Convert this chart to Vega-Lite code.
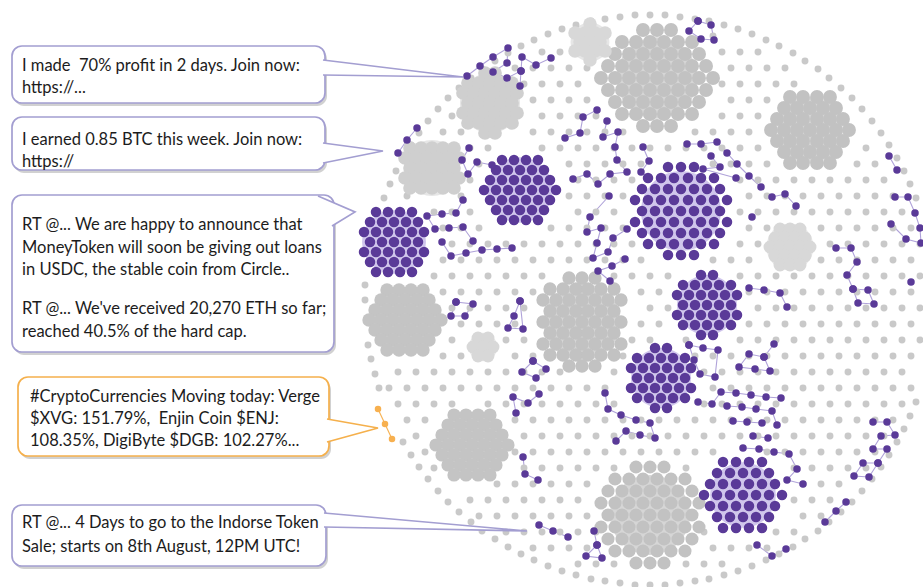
{
"$schema":"https://vega.github.io/schema/vega-lite/v6.json",
"width":923,"height":587,"padding":0,"autosize":{"type":"none"},"background":"white",
"config":{"view":{"stroke":null}},
"encoding":{
"x":{"field":"x","type":"quantitative","scale":{"domain":[0,923],"nice":false,"zero":false},"axis":null},
"y":{"field":"y","type":"quantitative","scale":{"domain":[0,587],"nice":false,"zero":false,"reverse":true},"axis":null}
},
"resolve":{"scale":{"size":"independent","color":"independent"}},
"datasets":{
"haze":[{"x":657,"y":78,"n":57,"k":"g"},{"x":810,"y":130,"n":37,"k":"g"},{"x":490,"y":103,"n":31,"k":"l"},{"x":432,"y":168,"n":27,"k":"l"},{"x":590,"y":42,"n":13,"k":"l"},{"x":405,"y":320,"n":37,"k":"g"},{"x":582,"y":322,"n":51,"k":"g"},{"x":472,"y":445,"n":37,"k":"g"},{"x":650,"y":515,"n":55,"k":"g"},{"x":790,"y":247,"n":19,"k":"l"},{"x":483,"y":347,"n":7,"k":"l"},{"x":520,"y":190,"n":37,"k":"p"},{"x":681,"y":211,"n":55,"k":"p"},{"x":394,"y":242,"n":35,"k":"p"},{"x":707,"y":305,"n":31,"k":"p"},{"x":661,"y":378,"n":31,"k":"p"},{"x":743,"y":495,"n":37,"k":"p"}],
"bg":[
{"x":916,"y":402},{"x":910,"y":416},{"x":904,"y":429},{"x":897,"y":442},{"x":889,"y":455},{"x":881,"y":467},{"x":872,"y":479},{"x":862,"y":491},{"x":852,"y":502},{"x":841,"y":512},{"x":829,"y":522},{"x":818,"y":531},{"x":805,"y":539},{"x":793,"y":547},{"x":779,"y":554},{"x":766,"y":560},{"x":752,"y":566},{"x":738,"y":571},{"x":724,"y":575},{"x":709,"y":579},{"x":695,"y":581},{"x":680,"y":583},{"x":665,"y":585},{"x":650,"y":585},
{"x":635,"y":585},{"x":620,"y":583},{"x":605,"y":581},{"x":591,"y":579},{"x":576,"y":575},{"x":562,"y":571},{"x":548,"y":566},{"x":534,"y":560},{"x":521,"y":554},{"x":508,"y":547},{"x":495,"y":539},{"x":482,"y":531},{"x":471,"y":522},{"x":459,"y":512},{"x":448,"y":502},{"x":438,"y":491},{"x":428,"y":479},{"x":419,"y":467},{"x":411,"y":455},{"x":403,"y":442},{"x":379,"y":388},{"x":375,"y":374},{"x":371,"y":359},{"x":368,"y":345},{"x":365,"y":300},
{"x":365,"y":285},{"x":384,"y":198},{"x":390,"y":184},{"x":396,"y":171},{"x":403,"y":158},{"x":411,"y":145},{"x":419,"y":133},{"x":428,"y":121},{"x":438,"y":109},{"x":448,"y":98},{"x":459,"y":88},{"x":471,"y":78},{"x":482,"y":69},{"x":495,"y":61},{"x":508,"y":53},{"x":521,"y":46},{"x":534,"y":40},{"x":548,"y":34},{"x":562,"y":29},{"x":576,"y":25},{"x":591,"y":21},{"x":605,"y":19},{"x":620,"y":17},{"x":635,"y":15},{"x":650,"y":15},
{"x":665,"y":15},{"x":680,"y":17},{"x":695,"y":19},{"x":709,"y":21},{"x":724,"y":25},{"x":738,"y":29},{"x":752,"y":34},{"x":766,"y":40},{"x":779,"y":46},{"x":793,"y":53},{"x":805,"y":61},{"x":818,"y":69},{"x":829,"y":78},{"x":841,"y":88},{"x":852,"y":98},{"x":862,"y":109},{"x":872,"y":121},{"x":881,"y":133},{"x":889,"y":145},{"x":897,"y":158},{"x":904,"y":171},{"x":910,"y":184},{"x":916,"y":198},
{"x":713,"y":36},
{"x":542,"y":52},{"x":560,"y":52},{"x":722,"y":52},{"x":740,"y":52},{"x":758,"y":52},
{"x":515,"y":68},{"x":533,"y":68},{"x":551,"y":68},{"x":569,"y":68},{"x":587,"y":68},{"x":731,"y":68},{"x":749,"y":68},{"x":767,"y":68},{"x":785,"y":68},
{"x":524,"y":84},{"x":542,"y":84},{"x":560,"y":84},{"x":578,"y":84},{"x":722,"y":84},{"x":740,"y":84},{"x":758,"y":84},{"x":776,"y":84},{"x":794,"y":84},
{"x":533,"y":100},{"x":551,"y":100},{"x":569,"y":100},{"x":587,"y":100},{"x":731,"y":100},{"x":749,"y":100},{"x":767,"y":100},
{"x":452,"y":116},{"x":542,"y":116},{"x":560,"y":116},{"x":578,"y":116},{"x":596,"y":116},{"x":722,"y":116},{"x":740,"y":116},{"x":758,"y":116},
{"x":443,"y":132},{"x":461,"y":132},{"x":533,"y":132},{"x":551,"y":132},{"x":569,"y":132},{"x":587,"y":132},{"x":605,"y":132},{"x":623,"y":132},{"x":695,"y":132},{"x":713,"y":132},{"x":731,"y":132},{"x":749,"y":132},
{"x":470,"y":148},{"x":488,"y":148},{"x":542,"y":148},{"x":560,"y":148},{"x":578,"y":148},{"x":596,"y":148},{"x":614,"y":148},{"x":632,"y":148},{"x":650,"y":148},{"x":668,"y":148},{"x":686,"y":148},{"x":704,"y":148},{"x":722,"y":148},{"x":740,"y":148},{"x":758,"y":148},{"x":866,"y":148},
{"x":479,"y":164},{"x":569,"y":164},{"x":587,"y":164},{"x":605,"y":164},{"x":623,"y":164},{"x":641,"y":164},{"x":713,"y":164},{"x":731,"y":164},{"x":749,"y":164},{"x":767,"y":164},{"x":857,"y":164},{"x":875,"y":164},
{"x":470,"y":180},{"x":578,"y":180},{"x":596,"y":180},{"x":614,"y":180},{"x":632,"y":180},{"x":740,"y":180},{"x":758,"y":180},{"x":776,"y":180},{"x":794,"y":180},{"x":812,"y":180},{"x":830,"y":180},{"x":848,"y":180},{"x":866,"y":180},{"x":884,"y":180},
{"x":407,"y":196},{"x":461,"y":196},{"x":569,"y":196},{"x":587,"y":196},{"x":605,"y":196},{"x":623,"y":196},{"x":749,"y":196},{"x":767,"y":196},{"x":785,"y":196},{"x":803,"y":196},{"x":821,"y":196},{"x":839,"y":196},{"x":857,"y":196},{"x":875,"y":196},{"x":893,"y":196},
{"x":434,"y":212},{"x":452,"y":212},{"x":470,"y":212},{"x":578,"y":212},{"x":596,"y":212},{"x":614,"y":212},{"x":740,"y":212},{"x":758,"y":212},{"x":776,"y":212},{"x":794,"y":212},{"x":812,"y":212},{"x":830,"y":212},{"x":848,"y":212},{"x":866,"y":212},{"x":884,"y":212},{"x":902,"y":212},
{"x":443,"y":228},{"x":461,"y":228},{"x":479,"y":228},{"x":551,"y":228},{"x":569,"y":228},{"x":587,"y":228},{"x":605,"y":228},{"x":623,"y":228},{"x":749,"y":228},{"x":767,"y":228},{"x":821,"y":228},{"x":839,"y":228},{"x":857,"y":228},{"x":875,"y":228},{"x":893,"y":228},{"x":911,"y":228},
{"x":452,"y":244},{"x":470,"y":244},{"x":488,"y":244},{"x":506,"y":244},{"x":524,"y":244},{"x":542,"y":244},{"x":560,"y":244},{"x":578,"y":244},{"x":596,"y":244},{"x":614,"y":244},{"x":632,"y":244},{"x":740,"y":244},{"x":758,"y":244},{"x":830,"y":244},{"x":848,"y":244},{"x":866,"y":244},{"x":884,"y":244},{"x":902,"y":244},{"x":920,"y":244},
{"x":443,"y":260},{"x":461,"y":260},{"x":479,"y":260},{"x":497,"y":260},{"x":515,"y":260},{"x":533,"y":260},{"x":551,"y":260},{"x":569,"y":260},{"x":587,"y":260},{"x":605,"y":260},{"x":623,"y":260},{"x":641,"y":260},{"x":713,"y":260},{"x":731,"y":260},{"x":749,"y":260},{"x":821,"y":260},{"x":839,"y":260},{"x":857,"y":260},{"x":875,"y":260},{"x":893,"y":260},{"x":911,"y":260},
{"x":434,"y":276},{"x":452,"y":276},{"x":470,"y":276},{"x":488,"y":276},{"x":506,"y":276},{"x":524,"y":276},{"x":542,"y":276},{"x":614,"y":276},{"x":632,"y":276},{"x":650,"y":276},{"x":668,"y":276},{"x":740,"y":276},{"x":758,"y":276},{"x":776,"y":276},{"x":794,"y":276},{"x":812,"y":276},{"x":830,"y":276},{"x":848,"y":276},{"x":866,"y":276},{"x":884,"y":276},{"x":902,"y":276},{"x":920,"y":276},
{"x":443,"y":292},{"x":461,"y":292},{"x":479,"y":292},{"x":497,"y":292},{"x":515,"y":292},{"x":533,"y":292},{"x":641,"y":292},{"x":659,"y":292},{"x":749,"y":292},{"x":767,"y":292},{"x":785,"y":292},{"x":803,"y":292},{"x":821,"y":292},{"x":839,"y":292},{"x":857,"y":292},{"x":875,"y":292},{"x":893,"y":292},{"x":911,"y":292},
{"x":452,"y":308},{"x":470,"y":308},{"x":488,"y":308},{"x":506,"y":308},{"x":524,"y":308},{"x":650,"y":308},{"x":668,"y":308},{"x":758,"y":308},{"x":776,"y":308},{"x":794,"y":308},{"x":812,"y":308},{"x":830,"y":308},{"x":848,"y":308},{"x":866,"y":308},{"x":884,"y":308},{"x":902,"y":308},{"x":920,"y":308},
{"x":461,"y":324},{"x":479,"y":324},{"x":497,"y":324},{"x":515,"y":324},{"x":641,"y":324},{"x":659,"y":324},{"x":749,"y":324},{"x":767,"y":324},{"x":785,"y":324},{"x":803,"y":324},{"x":821,"y":324},{"x":839,"y":324},{"x":857,"y":324},{"x":875,"y":324},{"x":893,"y":324},{"x":911,"y":324},
{"x":452,"y":340},{"x":506,"y":340},{"x":524,"y":340},{"x":632,"y":340},{"x":650,"y":340},{"x":686,"y":340},{"x":740,"y":340},{"x":758,"y":340},{"x":776,"y":340},{"x":794,"y":340},{"x":812,"y":340},{"x":830,"y":340},{"x":848,"y":340},{"x":866,"y":340},{"x":884,"y":340},{"x":902,"y":340},{"x":920,"y":340},
{"x":443,"y":356},{"x":461,"y":356},{"x":515,"y":356},{"x":533,"y":356},{"x":623,"y":356},{"x":695,"y":356},{"x":713,"y":356},{"x":731,"y":356},{"x":749,"y":356},{"x":767,"y":356},{"x":785,"y":356},{"x":803,"y":356},{"x":821,"y":356},{"x":839,"y":356},{"x":857,"y":356},{"x":875,"y":356},{"x":893,"y":356},{"x":911,"y":356},
{"x":398,"y":372},{"x":416,"y":372},{"x":434,"y":372},{"x":452,"y":372},{"x":470,"y":372},{"x":488,"y":372},{"x":506,"y":372},{"x":524,"y":372},{"x":542,"y":372},{"x":560,"y":372},{"x":614,"y":372},{"x":704,"y":372},{"x":722,"y":372},{"x":740,"y":372},{"x":758,"y":372},{"x":776,"y":372},{"x":794,"y":372},{"x":812,"y":372},{"x":830,"y":372},{"x":848,"y":372},{"x":866,"y":372},{"x":884,"y":372},{"x":902,"y":372},
{"x":389,"y":388},{"x":407,"y":388},{"x":425,"y":388},{"x":443,"y":388},{"x":461,"y":388},{"x":479,"y":388},{"x":497,"y":388},{"x":515,"y":388},{"x":533,"y":388},{"x":551,"y":388},{"x":569,"y":388},{"x":587,"y":388},{"x":605,"y":388},{"x":713,"y":388},{"x":731,"y":388},{"x":749,"y":388},{"x":767,"y":388},{"x":785,"y":388},{"x":803,"y":388},{"x":821,"y":388},{"x":839,"y":388},{"x":857,"y":388},{"x":875,"y":388},{"x":893,"y":388},{"x":911,"y":388},
{"x":398,"y":404},{"x":416,"y":404},{"x":434,"y":404},{"x":452,"y":404},{"x":488,"y":404},{"x":506,"y":404},{"x":524,"y":404},{"x":542,"y":404},{"x":560,"y":404},{"x":578,"y":404},{"x":596,"y":404},{"x":614,"y":404},{"x":704,"y":404},{"x":722,"y":404},{"x":740,"y":404},{"x":758,"y":404},{"x":776,"y":404},{"x":794,"y":404},{"x":812,"y":404},{"x":830,"y":404},{"x":848,"y":404},{"x":866,"y":404},{"x":884,"y":404},{"x":902,"y":404},
{"x":407,"y":420},{"x":425,"y":420},{"x":515,"y":420},{"x":533,"y":420},{"x":551,"y":420},{"x":569,"y":420},{"x":587,"y":420},{"x":605,"y":420},{"x":623,"y":420},{"x":641,"y":420},{"x":659,"y":420},{"x":677,"y":420},{"x":695,"y":420},{"x":713,"y":420},{"x":731,"y":420},{"x":749,"y":420},{"x":767,"y":420},{"x":785,"y":420},{"x":803,"y":420},{"x":821,"y":420},{"x":839,"y":420},{"x":857,"y":420},{"x":875,"y":420},{"x":893,"y":420},
{"x":416,"y":436},{"x":524,"y":436},{"x":542,"y":436},{"x":560,"y":436},{"x":578,"y":436},{"x":596,"y":436},{"x":614,"y":436},{"x":632,"y":436},{"x":650,"y":436},{"x":668,"y":436},{"x":686,"y":436},{"x":704,"y":436},{"x":722,"y":436},{"x":740,"y":436},{"x":758,"y":436},{"x":776,"y":436},{"x":794,"y":436},{"x":812,"y":436},{"x":830,"y":436},{"x":848,"y":436},{"x":866,"y":436},{"x":884,"y":436},
{"x":425,"y":452},{"x":515,"y":452},{"x":533,"y":452},{"x":551,"y":452},{"x":569,"y":452},{"x":587,"y":452},{"x":605,"y":452},{"x":623,"y":452},{"x":641,"y":452},{"x":659,"y":452},{"x":677,"y":452},{"x":695,"y":452},{"x":713,"y":452},{"x":767,"y":452},{"x":785,"y":452},{"x":803,"y":452},{"x":821,"y":452},{"x":839,"y":452},{"x":857,"y":452},{"x":875,"y":452},
{"x":434,"y":468},{"x":524,"y":468},{"x":542,"y":468},{"x":560,"y":468},{"x":578,"y":468},{"x":596,"y":468},{"x":614,"y":468},{"x":686,"y":468},{"x":794,"y":468},{"x":812,"y":468},{"x":830,"y":468},{"x":848,"y":468},{"x":866,"y":468},
{"x":497,"y":484},{"x":515,"y":484},{"x":533,"y":484},{"x":551,"y":484},{"x":569,"y":484},{"x":587,"y":484},{"x":803,"y":484},{"x":821,"y":484},{"x":839,"y":484},
{"x":470,"y":500},{"x":488,"y":500},{"x":506,"y":500},{"x":524,"y":500},{"x":542,"y":500},{"x":560,"y":500},{"x":578,"y":500},{"x":794,"y":500},{"x":812,"y":500},{"x":830,"y":500},
{"x":479,"y":516},{"x":497,"y":516},{"x":515,"y":516},{"x":533,"y":516},{"x":551,"y":516},{"x":569,"y":516},{"x":587,"y":516},{"x":803,"y":516},{"x":821,"y":516},
{"x":506,"y":532},{"x":524,"y":532},{"x":542,"y":532},{"x":560,"y":532},{"x":578,"y":532},{"x":596,"y":532},{"x":704,"y":532},{"x":776,"y":532},{"x":794,"y":532},
{"x":533,"y":548},{"x":551,"y":548},{"x":569,"y":548},{"x":587,"y":548},{"x":713,"y":548},{"x":731,"y":548},{"x":749,"y":548},{"x":767,"y":548},
{"x":578,"y":564},{"x":596,"y":564},{"x":614,"y":564},{"x":686,"y":564},{"x":704,"y":564},{"x":722,"y":564}
],
"gc":[
{"c":"A","x":643,"y":30},{"c":"A","x":657,"y":30},{"c":"A","x":671,"y":30},
{"c":"A","x":622,"y":42},{"c":"A","x":636,"y":42},{"c":"A","x":650,"y":42},{"c":"A","x":664,"y":42},{"c":"A","x":678,"y":42},{"c":"A","x":692,"y":42},
{"c":"A","x":615,"y":54},{"c":"A","x":629,"y":54},{"c":"A","x":643,"y":54},{"c":"A","x":657,"y":54},{"c":"A","x":671,"y":54},{"c":"A","x":685,"y":54},{"c":"A","x":699,"y":54},
{"c":"A","x":608,"y":66},{"c":"A","x":622,"y":66},{"c":"A","x":636,"y":66},{"c":"A","x":650,"y":66},{"c":"A","x":664,"y":66},{"c":"A","x":678,"y":66},{"c":"A","x":692,"y":66},{"c":"A","x":706,"y":66},
{"c":"A","x":601,"y":78},{"c":"A","x":615,"y":78},{"c":"A","x":629,"y":78},{"c":"A","x":643,"y":78},{"c":"A","x":657,"y":78},{"c":"A","x":671,"y":78},{"c":"A","x":685,"y":78},{"c":"A","x":699,"y":78},{"c":"A","x":713,"y":78},
{"c":"A","x":608,"y":90},{"c":"A","x":622,"y":90},{"c":"A","x":636,"y":90},{"c":"A","x":650,"y":90},{"c":"A","x":664,"y":90},{"c":"A","x":678,"y":90},{"c":"A","x":692,"y":90},{"c":"A","x":706,"y":90},
{"c":"A","x":615,"y":102},{"c":"A","x":629,"y":102},{"c":"A","x":643,"y":102},{"c":"A","x":657,"y":102},{"c":"A","x":671,"y":102},{"c":"A","x":685,"y":102},{"c":"A","x":699,"y":102},
{"c":"A","x":622,"y":114},{"c":"A","x":636,"y":114},{"c":"A","x":650,"y":114},{"c":"A","x":664,"y":114},{"c":"A","x":678,"y":114},{"c":"A","x":692,"y":114},
{"c":"A","x":643,"y":126},{"c":"A","x":657,"y":126},{"c":"A","x":671,"y":126},
{"c":"B","x":790,"y":97},{"c":"B","x":803,"y":97},{"c":"B","x":817,"y":97},{"c":"B","x":830,"y":97},
{"c":"B","x":784,"y":108},{"c":"B","x":797,"y":108},{"c":"B","x":810,"y":108},{"c":"B","x":823,"y":108},{"c":"B","x":836,"y":108},
{"c":"B","x":777,"y":119},{"c":"B","x":790,"y":119},{"c":"B","x":803,"y":119},{"c":"B","x":817,"y":119},{"c":"B","x":830,"y":119},{"c":"B","x":843,"y":119},
{"c":"B","x":771,"y":130},{"c":"B","x":784,"y":130},{"c":"B","x":797,"y":130},{"c":"B","x":810,"y":130},{"c":"B","x":823,"y":130},{"c":"B","x":836,"y":130},{"c":"B","x":849,"y":130},
{"c":"B","x":777,"y":141},{"c":"B","x":790,"y":141},{"c":"B","x":803,"y":141},{"c":"B","x":817,"y":141},{"c":"B","x":830,"y":141},{"c":"B","x":843,"y":141},
{"c":"B","x":784,"y":152},{"c":"B","x":797,"y":152},{"c":"B","x":810,"y":152},{"c":"B","x":823,"y":152},{"c":"B","x":836,"y":152},
{"c":"B","x":790,"y":163},{"c":"B","x":803,"y":163},{"c":"B","x":817,"y":163},{"c":"B","x":830,"y":163},
{"c":"C","x":485,"y":73},{"c":"C","x":495,"y":73},
{"c":"C","x":468,"y":83},{"c":"C","x":479,"y":83},{"c":"C","x":490,"y":83},{"c":"C","x":501,"y":83},{"c":"C","x":512,"y":83},
{"c":"C","x":463,"y":93},{"c":"C","x":474,"y":93},{"c":"C","x":485,"y":93},{"c":"C","x":495,"y":93},{"c":"C","x":506,"y":93},{"c":"C","x":517,"y":93},
{"c":"C","x":468,"y":103},{"c":"C","x":479,"y":103},{"c":"C","x":490,"y":103},{"c":"C","x":501,"y":103},{"c":"C","x":512,"y":103},
{"c":"C","x":463,"y":113},{"c":"C","x":474,"y":113},{"c":"C","x":485,"y":113},{"c":"C","x":495,"y":113},{"c":"C","x":506,"y":113},{"c":"C","x":517,"y":113},
{"c":"C","x":468,"y":123},{"c":"C","x":479,"y":123},{"c":"C","x":490,"y":123},{"c":"C","x":501,"y":123},{"c":"C","x":512,"y":123},
{"c":"C","x":485,"y":133},{"c":"C","x":495,"y":133},
{"c":"D","x":410,"y":148},{"c":"D","x":421,"y":148},{"c":"D","x":432,"y":148},{"c":"D","x":443,"y":148},{"c":"D","x":454,"y":148},
{"c":"D","x":405,"y":158},{"c":"D","x":416,"y":158},{"c":"D","x":427,"y":158},{"c":"D","x":437,"y":158},{"c":"D","x":448,"y":158},{"c":"D","x":459,"y":158},
{"c":"D","x":410,"y":168},{"c":"D","x":421,"y":168},{"c":"D","x":432,"y":168},{"c":"D","x":443,"y":168},{"c":"D","x":454,"y":168},
{"c":"D","x":405,"y":178},{"c":"D","x":416,"y":178},{"c":"D","x":427,"y":178},{"c":"D","x":437,"y":178},{"c":"D","x":448,"y":178},{"c":"D","x":459,"y":178},
{"c":"D","x":410,"y":188},{"c":"D","x":421,"y":188},{"c":"D","x":432,"y":188},{"c":"D","x":443,"y":188},{"c":"D","x":454,"y":188},
{"c":"E","x":590,"y":24},{"c":"E","x":575,"y":33},{"c":"E","x":585,"y":33},{"c":"E","x":595,"y":33},{"c":"E","x":605,"y":33},{"c":"E","x":580,"y":42},{"c":"E","x":590,"y":42},{"c":"E","x":600,"y":42},{"c":"E","x":575,"y":51},{"c":"E","x":585,"y":51},{"c":"E","x":595,"y":51},{"c":"E","x":605,"y":51},{"c":"E","x":590,"y":60},
{"c":"F","x":387,"y":290},{"c":"F","x":399,"y":290},{"c":"F","x":411,"y":290},{"c":"F","x":423,"y":290},
{"c":"F","x":381,"y":300},{"c":"F","x":393,"y":300},{"c":"F","x":405,"y":300},{"c":"F","x":417,"y":300},{"c":"F","x":429,"y":300},
{"c":"F","x":375,"y":310},{"c":"F","x":387,"y":310},{"c":"F","x":399,"y":310},{"c":"F","x":411,"y":310},{"c":"F","x":423,"y":310},{"c":"F","x":435,"y":310},
{"c":"F","x":369,"y":320},{"c":"F","x":381,"y":320},{"c":"F","x":393,"y":320},{"c":"F","x":405,"y":320},{"c":"F","x":417,"y":320},{"c":"F","x":429,"y":320},{"c":"F","x":441,"y":320},
{"c":"F","x":375,"y":330},{"c":"F","x":387,"y":330},{"c":"F","x":399,"y":330},{"c":"F","x":411,"y":330},{"c":"F","x":423,"y":330},{"c":"F","x":435,"y":330},
{"c":"F","x":381,"y":340},{"c":"F","x":393,"y":340},{"c":"F","x":405,"y":340},{"c":"F","x":417,"y":340},{"c":"F","x":429,"y":340},
{"c":"F","x":387,"y":350},{"c":"F","x":399,"y":350},{"c":"F","x":411,"y":350},{"c":"F","x":423,"y":350},
{"c":"G","x":569,"y":278},{"c":"G","x":582,"y":278},{"c":"G","x":595,"y":278},
{"c":"G","x":550,"y":289},{"c":"G","x":563,"y":289},{"c":"G","x":576,"y":289},{"c":"G","x":588,"y":289},{"c":"G","x":601,"y":289},{"c":"G","x":614,"y":289},
{"c":"G","x":543,"y":300},{"c":"G","x":556,"y":300},{"c":"G","x":569,"y":300},{"c":"G","x":582,"y":300},{"c":"G","x":595,"y":300},{"c":"G","x":608,"y":300},{"c":"G","x":621,"y":300},
{"c":"G","x":550,"y":311},{"c":"G","x":563,"y":311},{"c":"G","x":576,"y":311},{"c":"G","x":588,"y":311},{"c":"G","x":601,"y":311},{"c":"G","x":614,"y":311},
{"c":"G","x":543,"y":322},{"c":"G","x":556,"y":322},{"c":"G","x":569,"y":322},{"c":"G","x":582,"y":322},{"c":"G","x":595,"y":322},{"c":"G","x":608,"y":322},{"c":"G","x":621,"y":322},
{"c":"G","x":550,"y":333},{"c":"G","x":563,"y":333},{"c":"G","x":576,"y":333},{"c":"G","x":588,"y":333},{"c":"G","x":601,"y":333},{"c":"G","x":614,"y":333},
{"c":"G","x":543,"y":344},{"c":"G","x":556,"y":344},{"c":"G","x":569,"y":344},{"c":"G","x":582,"y":344},{"c":"G","x":595,"y":344},{"c":"G","x":608,"y":344},{"c":"G","x":621,"y":344},
{"c":"G","x":550,"y":355},{"c":"G","x":563,"y":355},{"c":"G","x":576,"y":355},{"c":"G","x":588,"y":355},{"c":"G","x":601,"y":355},{"c":"G","x":614,"y":355},
{"c":"G","x":569,"y":366},{"c":"G","x":582,"y":366},{"c":"G","x":595,"y":366},
{"c":"H","x":454,"y":415},{"c":"H","x":466,"y":415},{"c":"H","x":478,"y":415},{"c":"H","x":490,"y":415},
{"c":"H","x":448,"y":425},{"c":"H","x":460,"y":425},{"c":"H","x":472,"y":425},{"c":"H","x":484,"y":425},{"c":"H","x":496,"y":425},
{"c":"H","x":442,"y":435},{"c":"H","x":454,"y":435},{"c":"H","x":466,"y":435},{"c":"H","x":478,"y":435},{"c":"H","x":490,"y":435},{"c":"H","x":502,"y":435},
{"c":"H","x":436,"y":445},{"c":"H","x":448,"y":445},{"c":"H","x":460,"y":445},{"c":"H","x":472,"y":445},{"c":"H","x":484,"y":445},{"c":"H","x":496,"y":445},{"c":"H","x":508,"y":445},
{"c":"H","x":442,"y":455},{"c":"H","x":454,"y":455},{"c":"H","x":466,"y":455},{"c":"H","x":478,"y":455},{"c":"H","x":490,"y":455},{"c":"H","x":502,"y":455},
{"c":"H","x":448,"y":465},{"c":"H","x":460,"y":465},{"c":"H","x":472,"y":465},{"c":"H","x":484,"y":465},{"c":"H","x":496,"y":465},
{"c":"H","x":454,"y":475},{"c":"H","x":466,"y":475},{"c":"H","x":478,"y":475},{"c":"H","x":490,"y":475},
{"c":"I","x":636,"y":467},{"c":"I","x":650,"y":467},{"c":"I","x":664,"y":467},
{"c":"I","x":615,"y":479},{"c":"I","x":629,"y":479},{"c":"I","x":643,"y":479},{"c":"I","x":657,"y":479},{"c":"I","x":671,"y":479},{"c":"I","x":685,"y":479},
{"c":"I","x":608,"y":491},{"c":"I","x":622,"y":491},{"c":"I","x":636,"y":491},{"c":"I","x":650,"y":491},{"c":"I","x":664,"y":491},{"c":"I","x":678,"y":491},{"c":"I","x":692,"y":491},
{"c":"I","x":601,"y":503},{"c":"I","x":615,"y":503},{"c":"I","x":629,"y":503},{"c":"I","x":643,"y":503},{"c":"I","x":657,"y":503},{"c":"I","x":671,"y":503},{"c":"I","x":685,"y":503},{"c":"I","x":699,"y":503},
{"c":"I","x":608,"y":515},{"c":"I","x":622,"y":515},{"c":"I","x":636,"y":515},{"c":"I","x":650,"y":515},{"c":"I","x":664,"y":515},{"c":"I","x":678,"y":515},{"c":"I","x":692,"y":515},
{"c":"I","x":601,"y":527},{"c":"I","x":615,"y":527},{"c":"I","x":629,"y":527},{"c":"I","x":643,"y":527},{"c":"I","x":657,"y":527},{"c":"I","x":671,"y":527},{"c":"I","x":685,"y":527},{"c":"I","x":699,"y":527},
{"c":"I","x":608,"y":539},{"c":"I","x":622,"y":539},{"c":"I","x":636,"y":539},{"c":"I","x":650,"y":539},{"c":"I","x":664,"y":539},{"c":"I","x":678,"y":539},{"c":"I","x":692,"y":539},
{"c":"I","x":615,"y":551},{"c":"I","x":629,"y":551},{"c":"I","x":643,"y":551},{"c":"I","x":657,"y":551},{"c":"I","x":671,"y":551},{"c":"I","x":685,"y":551},
{"c":"I","x":636,"y":563},{"c":"I","x":650,"y":563},{"c":"I","x":664,"y":563},
{"c":"J","x":780,"y":229},{"c":"J","x":790,"y":229},{"c":"J","x":800,"y":229},{"c":"J","x":775,"y":238},{"c":"J","x":785,"y":238},{"c":"J","x":795,"y":238},{"c":"J","x":805,"y":238},{"c":"J","x":770,"y":247},{"c":"J","x":780,"y":247},{"c":"J","x":790,"y":247},{"c":"J","x":800,"y":247},{"c":"J","x":810,"y":247},{"c":"J","x":775,"y":256},{"c":"J","x":785,"y":256},{"c":"J","x":795,"y":256},{"c":"J","x":805,"y":256},{"c":"J","x":780,"y":265},{"c":"J","x":790,"y":265},{"c":"J","x":800,"y":265},
{"c":"K","x":478,"y":338},{"c":"K","x":488,"y":338},{"c":"K","x":473,"y":347},{"c":"K","x":483,"y":347},{"c":"K","x":493,"y":347},{"c":"K","x":478,"y":356},{"c":"K","x":488,"y":356}
],
"pc":[
{"x":502,"y":160},{"x":514,"y":160},{"x":526,"y":160},{"x":538,"y":160},
{"x":496,"y":170},{"x":508,"y":170},{"x":520,"y":170},{"x":532,"y":170},{"x":544,"y":170},
{"x":490,"y":180},{"x":502,"y":180},{"x":514,"y":180},{"x":526,"y":180},{"x":538,"y":180},{"x":550,"y":180},
{"x":484,"y":190},{"x":496,"y":190},{"x":508,"y":190},{"x":520,"y":190},{"x":532,"y":190},{"x":544,"y":190},{"x":556,"y":190},
{"x":490,"y":200},{"x":502,"y":200},{"x":514,"y":200},{"x":526,"y":200},{"x":538,"y":200},{"x":550,"y":200},
{"x":496,"y":210},{"x":508,"y":210},{"x":520,"y":210},{"x":532,"y":210},{"x":544,"y":210},
{"x":502,"y":220},{"x":514,"y":220},{"x":526,"y":220},{"x":538,"y":220},
{"x":668,"y":167},{"x":681,"y":167},{"x":694,"y":167},
{"x":648,"y":178},{"x":661,"y":178},{"x":674,"y":178},{"x":688,"y":178},{"x":701,"y":178},{"x":714,"y":178},
{"x":642,"y":189},{"x":655,"y":189},{"x":668,"y":189},{"x":681,"y":189},{"x":694,"y":189},{"x":707,"y":189},{"x":720,"y":189},
{"x":635,"y":200},{"x":648,"y":200},{"x":661,"y":200},{"x":674,"y":200},{"x":688,"y":200},{"x":701,"y":200},{"x":714,"y":200},{"x":727,"y":200},
{"x":642,"y":211},{"x":655,"y":211},{"x":668,"y":211},{"x":681,"y":211},{"x":694,"y":211},{"x":707,"y":211},{"x":720,"y":211},
{"x":635,"y":222},{"x":648,"y":222},{"x":661,"y":222},{"x":674,"y":222},{"x":688,"y":222},{"x":701,"y":222},{"x":714,"y":222},{"x":727,"y":222},
{"x":642,"y":233},{"x":655,"y":233},{"x":668,"y":233},{"x":681,"y":233},{"x":694,"y":233},{"x":707,"y":233},{"x":720,"y":233},
{"x":648,"y":244},{"x":661,"y":244},{"x":674,"y":244},{"x":688,"y":244},{"x":701,"y":244},{"x":714,"y":244},
{"x":668,"y":255},{"x":681,"y":255},{"x":694,"y":255},
{"x":376,"y":212},{"x":388,"y":212},{"x":400,"y":212},{"x":412,"y":212},
{"x":370,"y":222},{"x":382,"y":222},{"x":394,"y":222},{"x":406,"y":222},{"x":418,"y":222},
{"x":364,"y":232},{"x":376,"y":232},{"x":388,"y":232},{"x":400,"y":232},{"x":412,"y":232},{"x":424,"y":232},
{"x":370,"y":242},{"x":382,"y":242},{"x":394,"y":242},{"x":406,"y":242},{"x":418,"y":242},
{"x":364,"y":252},{"x":376,"y":252},{"x":388,"y":252},{"x":400,"y":252},{"x":412,"y":252},{"x":424,"y":252},
{"x":370,"y":262},{"x":382,"y":262},{"x":394,"y":262},{"x":406,"y":262},{"x":418,"y":262},
{"x":376,"y":272},{"x":388,"y":272},{"x":400,"y":272},{"x":412,"y":272},
{"x":701,"y":275},{"x":713,"y":275},
{"x":683,"y":285},{"x":695,"y":285},{"x":707,"y":285},{"x":719,"y":285},{"x":731,"y":285},
{"x":677,"y":295},{"x":689,"y":295},{"x":701,"y":295},{"x":713,"y":295},{"x":725,"y":295},{"x":737,"y":295},
{"x":683,"y":305},{"x":695,"y":305},{"x":707,"y":305},{"x":719,"y":305},{"x":731,"y":305},
{"x":677,"y":315},{"x":689,"y":315},{"x":701,"y":315},{"x":713,"y":315},{"x":725,"y":315},{"x":737,"y":315},
{"x":683,"y":325},{"x":695,"y":325},{"x":707,"y":325},{"x":719,"y":325},{"x":731,"y":325},
{"x":701,"y":335},{"x":713,"y":335},
{"x":655,"y":348},{"x":667,"y":348},
{"x":637,"y":358},{"x":649,"y":358},{"x":661,"y":358},{"x":673,"y":358},{"x":685,"y":358},
{"x":631,"y":368},{"x":643,"y":368},{"x":655,"y":368},{"x":667,"y":368},{"x":679,"y":368},{"x":691,"y":368},
{"x":637,"y":378},{"x":649,"y":378},{"x":661,"y":378},{"x":673,"y":378},{"x":685,"y":378},
{"x":631,"y":388},{"x":643,"y":388},{"x":655,"y":388},{"x":667,"y":388},{"x":679,"y":388},{"x":691,"y":388},
{"x":637,"y":398},{"x":649,"y":398},{"x":661,"y":398},{"x":673,"y":398},{"x":685,"y":398},
{"x":655,"y":408},{"x":667,"y":408},
{"x":723,"y":462},{"x":736,"y":462},{"x":749,"y":462},{"x":762,"y":462},
{"x":717,"y":473},{"x":730,"y":473},{"x":743,"y":473},{"x":756,"y":473},{"x":769,"y":473},
{"x":710,"y":484},{"x":723,"y":484},{"x":736,"y":484},{"x":749,"y":484},{"x":762,"y":484},{"x":775,"y":484},
{"x":704,"y":495},{"x":717,"y":495},{"x":730,"y":495},{"x":743,"y":495},{"x":756,"y":495},{"x":769,"y":495},{"x":782,"y":495},
{"x":710,"y":506},{"x":723,"y":506},{"x":736,"y":506},{"x":749,"y":506},{"x":762,"y":506},{"x":775,"y":506},
{"x":717,"y":517},{"x":730,"y":517},{"x":743,"y":517},{"x":756,"y":517},{"x":769,"y":517},
{"x":723,"y":528},{"x":736,"y":528},{"x":749,"y":528},{"x":762,"y":528}
],
"ps":[
{"g":1,"x":467,"y":76},{"g":1,"x":480,"y":66},{"g":1,"x":493,"y":57},{"g":1,"x":508,"y":48},{"g":1,"x":507,"y":63},{"g":1,"x":493,"y":72},{"g":1,"x":507,"y":78},{"g":1,"x":521,"y":71},{"g":1,"x":522,"y":57},{"g":1,"x":536,"y":65},{"g":1,"x":551,"y":58},
{"g":2,"x":521,"y":71},{"g":2,"x":520,"y":86},
{"g":3,"x":417,"y":128},{"g":3,"x":407,"y":140},{"g":3,"x":398,"y":153},
{"g":4,"x":698,"y":21},{"g":4,"x":711,"y":25},{"g":4,"x":714,"y":40},{"g":4,"x":701,"y":39},{"g":4,"x":689,"y":31},{"g":4,"x":698,"y":21},
{"g":5,"x":597,"y":110},{"g":5,"x":583,"y":117},{"g":5,"x":580,"y":133},{"g":5,"x":565,"y":138},
{"g":6,"x":607,"y":121},{"g":6,"x":603,"y":137},{"g":6,"x":618,"y":132},{"g":6,"x":615,"y":147},{"g":6,"x":617,"y":160},{"g":6,"x":627,"y":172},{"g":6,"x":610,"y":174},{"g":6,"x":598,"y":184},{"g":6,"x":587,"y":174},{"g":6,"x":573,"y":179},
{"g":7,"x":469,"y":148},{"g":7,"x":462,"y":160},{"g":7,"x":468,"y":174},{"g":7,"x":477,"y":162},{"g":7,"x":492,"y":165},
{"g":8,"x":643,"y":147},{"g":8,"x":649,"y":161},{"g":8,"x":641,"y":172},
{"g":9,"x":687,"y":144},{"g":9,"x":701,"y":144},{"g":9,"x":717,"y":142},{"g":9,"x":727,"y":153},{"g":9,"x":737,"y":164},{"g":9,"x":749,"y":176},{"g":9,"x":761,"y":187},
{"g":10,"x":711,"y":156},{"g":10,"x":720,"y":167},{"g":10,"x":703,"y":169},{"g":10,"x":736,"y":178},
{"g":11,"x":889,"y":156},{"g":11,"x":897,"y":170},
{"g":12,"x":895,"y":197},{"g":12,"x":908,"y":197},{"g":12,"x":915,"y":213},{"g":12,"x":920,"y":228},{"g":12,"x":921,"y":243},{"g":12,"x":906,"y":239},{"g":12,"x":891,"y":224},
{"g":13,"x":772,"y":197},{"g":13,"x":785,"y":194},{"g":13,"x":796,"y":206},
{"g":14,"x":752,"y":217},
{"g":15,"x":463,"y":200},{"g":15,"x":456,"y":213},{"g":15,"x":442,"y":214},{"g":15,"x":427,"y":216},{"g":15,"x":435,"y":229},{"g":15,"x":449,"y":228},{"g":15,"x":463,"y":227},{"g":15,"x":473,"y":241},
{"g":16,"x":442,"y":242},{"g":16,"x":451,"y":256},{"g":16,"x":466,"y":253},{"g":16,"x":482,"y":250},{"g":16,"x":497,"y":249},{"g":16,"x":512,"y":248},
{"g":17,"x":456,"y":302},{"g":17,"x":473,"y":304},{"g":17,"x":465,"y":316},{"g":17,"x":451,"y":316},{"g":17,"x":456,"y":302},
{"g":18,"x":520,"y":301},{"g":18,"x":514,"y":316},{"g":18,"x":508,"y":328},{"g":18,"x":523,"y":329},{"g":18,"x":520,"y":301},
{"g":19,"x":533,"y":361},{"g":19,"x":546,"y":369},{"g":19,"x":536,"y":378},{"g":19,"x":522,"y":372},{"g":19,"x":533,"y":361},
{"g":20,"x":609,"y":196},{"g":20,"x":590,"y":217},{"g":20,"x":587,"y":232},{"g":20,"x":601,"y":228},{"g":20,"x":597,"y":243},{"g":20,"x":593,"y":258},{"g":20,"x":608,"y":252},{"g":20,"x":613,"y":238},{"g":20,"x":627,"y":229},
{"g":21,"x":625,"y":259},{"g":21,"x":612,"y":266},{"g":21,"x":598,"y":271},{"g":21,"x":610,"y":281},
{"g":22,"x":836,"y":248},{"g":22,"x":851,"y":248},{"g":22,"x":857,"y":262},{"g":22,"x":847,"y":275},{"g":22,"x":853,"y":289},{"g":22,"x":868,"y":290},{"g":22,"x":874,"y":304},{"g":22,"x":858,"y":303},{"g":22,"x":853,"y":289},
{"g":23,"x":911,"y":282},
{"g":24,"x":749,"y":288},{"g":24,"x":764,"y":290},{"g":24,"x":780,"y":293},{"g":24,"x":787,"y":307},
{"g":25,"x":689,"y":345},{"g":25,"x":703,"y":348},{"g":25,"x":718,"y":350},{"g":25,"x":715,"y":377},{"g":25,"x":700,"y":374},{"g":25,"x":694,"y":360},{"g":25,"x":689,"y":345},
{"g":26,"x":774,"y":344},{"g":26,"x":764,"y":357},{"g":26,"x":749,"y":354},{"g":26,"x":739,"y":367},{"g":26,"x":755,"y":369},{"g":26,"x":770,"y":371},{"g":26,"x":764,"y":357},
{"g":27,"x":539,"y":394},{"g":27,"x":528,"y":403},{"g":27,"x":513,"y":397},{"g":27,"x":516,"y":413},
{"g":28,"x":523,"y":457},{"g":28,"x":525,"y":474},{"g":28,"x":538,"y":480},
{"g":29,"x":539,"y":525},{"g":29,"x":553,"y":531},{"g":29,"x":568,"y":537},
{"g":30,"x":594,"y":531},{"g":30,"x":597,"y":545},{"g":30,"x":586,"y":556},{"g":30,"x":602,"y":558},{"g":30,"x":597,"y":545},
{"g":31,"x":605,"y":393},{"g":31,"x":608,"y":409},{"g":31,"x":621,"y":415},{"g":31,"x":636,"y":420},{"g":31,"x":650,"y":423},{"g":31,"x":655,"y":438},{"g":31,"x":640,"y":435},{"g":31,"x":626,"y":431},{"g":31,"x":616,"y":441},
{"g":32,"x":698,"y":402},{"g":32,"x":712,"y":404},{"g":32,"x":721,"y":392},{"g":32,"x":736,"y":393},{"g":32,"x":751,"y":395},{"g":32,"x":766,"y":397},{"g":32,"x":781,"y":398},
{"g":33,"x":727,"y":406},{"g":33,"x":742,"y":407},{"g":33,"x":756,"y":409},{"g":33,"x":772,"y":411},{"g":33,"x":777,"y":425},
{"g":34,"x":733,"y":421},{"g":34,"x":747,"y":422},{"g":34,"x":762,"y":423},
{"g":35,"x":753,"y":436},{"g":35,"x":768,"y":438},
{"g":36,"x":743,"y":448},{"g":36,"x":759,"y":449},{"g":36,"x":774,"y":452},{"g":36,"x":789,"y":454},{"g":36,"x":797,"y":469},{"g":36,"x":787,"y":480},{"g":36,"x":803,"y":484},
{"g":37,"x":873,"y":422},{"g":37,"x":887,"y":422},{"g":37,"x":895,"y":435},{"g":37,"x":881,"y":436},{"g":37,"x":873,"y":449},{"g":37,"x":887,"y":449},{"g":37,"x":878,"y":463},{"g":37,"x":863,"y":463},{"g":37,"x":854,"y":476},{"g":37,"x":869,"y":477},{"g":37,"x":878,"y":463},
{"g":38,"x":846,"y":502},{"g":38,"x":836,"y":511},{"g":38,"x":825,"y":522},
{"g":39,"x":757,"y":545},{"g":39,"x":772,"y":556},{"g":39,"x":786,"y":549}
],
"org":[{"x":378,"y":409},{"x":385,"y":424},{"x":392,"y":439}],
"box":[{"x":12,"x2":325,"y":46,"y2":103,"k":"p"},{"x":12,"x2":325,"y":117,"y2":170,"k":"p"},{"x":12,"x2":334,"y":195,"y2":352,"k":"p"},{"x":18,"x2":329,"y":377,"y2":456,"k":"o"},{"x":12,"x2":326,"y":505,"y2":566,"k":"p"}],
"tail":[
{"b":1,"k":"p","x":323,"y":60},{"b":1,"k":"p","x":463,"y":77},{"b":1,"k":"p","x":323,"y":75},
{"b":2,"k":"p","x":323,"y":143},{"b":2,"k":"p","x":383,"y":151},{"b":2,"k":"p","x":323,"y":163},
{"b":3,"k":"p","x":318,"y":196},{"b":3,"k":"p","x":355,"y":212},{"b":3,"k":"p","x":332,"y":226},
{"b":4,"k":"o","x":327,"y":419},{"b":4,"k":"o","x":378,"y":428},{"b":4,"k":"o","x":327,"y":442},
{"b":5,"k":"p","x":324,"y":513},{"b":5,"k":"p","x":527,"y":531},{"b":5,"k":"p","x":324,"y":527}
],
"txt":[
{"x":22,"y":66,"t":"I made \u00a070% profit in 2 days. Join now:"},
{"x":22,"y":88,"t":"https://..."},
{"x":22,"y":140,"t":"I earned 0.85 BTC this week. Join now:"},
{"x":22,"y":162,"t":"https://"},
{"x":22,"y":225,"t":"RT @... We are happy to announce that"},
{"x":22,"y":248,"t":"MoneyToken will soon be giving out loans"},
{"x":22,"y":270,"t":"in USDC, the stable coin from Circle.."},
{"x":22,"y":309,"t":"RT @... We've received 20,270 ETH so far;"},
{"x":22,"y":332,"t":"reached 40.5% of the hard cap."},
{"x":30,"y":397,"t":"#CryptoCurrencies Moving today: Verge"},
{"x":30,"y":419,"t":"$XVG: 151.79%, \u00a0Enjin Coin $ENJ:"},
{"x":30,"y":441,"t":"108.35%, DigiByte $DGB: 102.27%..."},
{"x":22,"y":523,"t":"RT @... 4 Days to go to the Indorse Token"},
{"x":22,"y":547,"t":"Sale; starts on 8th August, 12PM UTC!"}
]
},
"layer":[
{"data":{"name":"haze"},"mark":{"type":"circle","opacity":1},
 "encoding":{"size":{"field":"n","type":"quantitative","scale":{"domain":[0,60],"range":[0,7000],"zero":true},"legend":null},
 "color":{"field":"k","type":"nominal","scale":{"domain":["g","l","p"],"range":["#d6d6d6","#e6e6e6","#d0c6ec"]},"legend":null}}},
{"data":{"name":"ps"},"mark":{"type":"line","stroke":"#9b8bcf","strokeWidth":1.1,"opacity":0.8},
 "encoding":{"detail":{"field":"g","type":"nominal"},"order":{"value":null}}},
{"data":{"name":"org"},"mark":{"type":"line","stroke":"#f7b457","strokeWidth":1.2},"encoding":{"order":{"value":null}}},
{"data":{"name":"bg"},"mark":{"type":"circle","color":"#c9c9c9","size":48,"opacity":1}},
{"data":{"name":"gc"},"mark":{"type":"circle","opacity":1},
 "encoding":{"size":{"field":"c","type":"ordinal","scale":{"domain":["A","B","C","D","E","F","G","H","I","J","K"],"range":[195,165,80,80,45,120,165,130,195,45,50]},"legend":null},
 "color":{"field":"c","type":"nominal","scale":{"domain":["A","B","C","D","E","F","G","H","I","J","K"],"range":["#c2c2c2","#c2c2c2","#cfcfcf","#cfcfcf","#d8d8d8","#c4c4c4","#c2c2c2","#c4c4c4","#c2c2c2","#d8d8d8","#d8d8d8"]},"legend":null}}},
{"data":{"name":"pc"},"mark":{"type":"circle","color":"#5a3a98","size":110,"opacity":1}},
{"data":{"name":"ps"},"mark":{"type":"circle","color":"#5a3a98","size":56,"opacity":1}},
{"data":{"name":"org"},"mark":{"type":"circle","color":"#f7b04f","size":42,"opacity":1}},
{"data":{"name":"box"},"mark":{"type":"rect","fill":"#9a9a9a","opacity":0.45,"cornerRadius":10,"xOffset":2,"x2Offset":2,"yOffset":3,"y2Offset":3},
 "encoding":{"x2":{"field":"x2"},"y2":{"field":"y2"}}},
{"data":{"name":"box"},"mark":{"type":"rect","fill":"white","strokeWidth":1.7,"cornerRadius":10},
 "encoding":{"x2":{"field":"x2"},"y2":{"field":"y2"},"stroke":{"field":"k","type":"nominal","scale":{"domain":["p","o"],"range":["#a39ed1","#f5b04c"]},"legend":null}}},
{"data":{"name":"tail"},"mark":{"type":"line","fill":"white","strokeWidth":1.7},
 "encoding":{"detail":{"field":"b","type":"nominal"},"order":{"value":null},"stroke":{"field":"k","type":"nominal","scale":{"domain":["p","o"],"range":["#a39ed1","#f5b04c"]},"legend":null}}},
{"data":{"name":"txt"},"mark":{"type":"text","align":"left","baseline":"middle","font":"Lato","fontSize":16.5,"fill":"#1c1c1c"},
 "encoding":{"text":{"field":"t","type":"nominal"}}}
]
}
